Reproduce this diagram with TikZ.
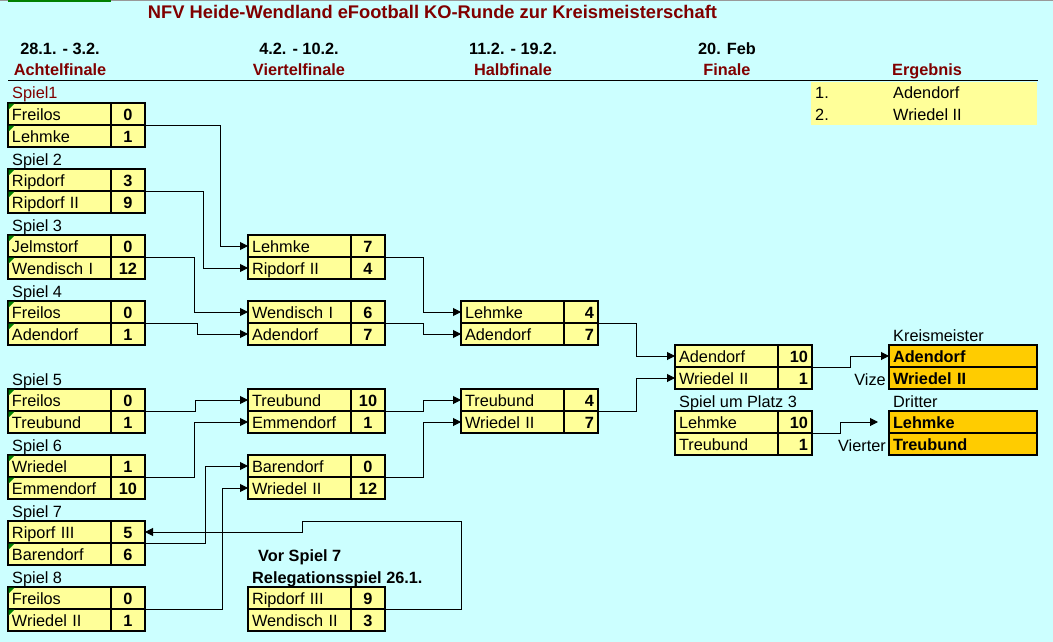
\documentclass[tikz,border=0pt]{standalone}
\usepackage{fontspec}
\setmainfont{Liberation Sans}
\usetikzlibrary{arrows.meta,calc}
\definecolor{bgc}{RGB}{204,255,255}
\definecolor{yl}{RGB}{255,255,153}
\definecolor{orng}{RGB}{255,204,0}
\definecolor{dred}{RGB}{128,0,0}
\definecolor{xlgreen}{RGB}{0,128,0}
\newcommand\tf{\fontsize{16.3}{19}\selectfont}
\newcommand\mtch[8]{%
 \node[team] (#1a) at (#2,#3) {#4};
 \node[score=#8] (#1as) at (#1a.north east) {#5};
 \node[team] (#1b) at (#1a.south west) {#6};
 \node[score=#8] (#1bs) at (#1b.north east) {#7};
}
\tikzset{
 team/.style={draw, line width=1.1pt, fill=yl, minimum height=22pt, text width=95pt,
   inner xsep=4pt, inner ysep=0pt, outer sep=0pt, align=left, font=\tf,
   text height=13pt, text depth=0pt, anchor=north west},
 score/.style={team, text width=26pt, align=#1, font=\tf\bfseries},
 score/.default=center,
 res/.style={team, fill=orng, text width=140pt, font=\tf\bfseries},
 lbl/.style={anchor=base west, inner sep=0pt, font=\tf},
 lble/.style={anchor=base east, inner sep=0pt, font=\tf},
 hdr/.style={anchor=base, inner sep=0pt, font=\tf\bfseries},
 arr/.style={draw, line width=1pt, -{Triangle[length=8pt,width=8pt]}},
 ln/.style={draw, line width=1pt},
}
\begin{document}
\begin{tikzpicture}[x=1pt,y=-1pt]
\useasboundingbox (0,0) rectangle (1053,642);
\fill[bgc] (0,0) rectangle (1053,642);
\fill[black!40] (0,0) rectangle (1053,1.5);
\fill[xlgreen] (8,0) rectangle (111,2);

% title and headers
\node[hdr, font=\fontsize{18.3}{22}\selectfont\bfseries, text=dred] (title) at (432.5,18.5) {NFV Heide-Wendland eFootball KO-Runde zur Kreismeisterschaft};
\node[hdr] (d1) at (60,55) {28.1. - 3.2.};
\node[hdr, text=dred] (r1h) at (60,76) {Achtelfinale};
\node[hdr] (d2) at (299,55) {4.2. - 10.2.};
\node[hdr, text=dred] (r2h) at (299,76) {Viertelfinale};
\node[hdr] (d3) at (513,55) {11.2. - 19.2.};
\node[hdr, text=dred] (r3h) at (513,76) {Halbfinale};
\node[hdr] (d4) at (727,55) {20. Feb};
\node[hdr, text=dred] (r4h) at (727,76) {Finale};
\node[hdr, text=dred] (r5h) at (927,76) {Ergebnis};
\draw[line width=1pt] (8,81) -- (1038,81);

% Ergebnis box
\fill[yl] (811,82) rectangle (1037,125);
\node[lbl] (e1) at (815,99) {1.};
\node[lbl] (e1t) at (893,99) {Adendorf};
\node[lbl] (e2) at (815,121) {2.};
\node[lbl] (e2t) at (893,121) {Wriedel II};

% Achtelfinale
\node[lbl, text=dred] (l1) at (12,99) {Spiel1};
\mtch{m1}{8}{103}{Freilos}{0}{Lehmke}{1}{center}
\node[lbl] (l2) at (12,165) {Spiel 2};
\mtch{m2}{8}{169}{Ripdorf}{3}{Ripdorf II}{9}{center}
\node[lbl] (l3) at (12,231) {Spiel 3};
\mtch{m3}{8}{235}{Jelmstorf}{0}{Wendisch I}{12}{center}
\node[lbl] (l4) at (12,297) {Spiel 4};
\mtch{m4}{8}{301}{Freilos}{0}{Adendorf}{1}{center}
\node[lbl] (l5) at (12,385) {Spiel 5};
\mtch{m5}{8}{389}{Freilos}{0}{Treubund}{1}{center}
\node[lbl] (l6) at (12,451) {Spiel 6};
\mtch{m6}{8}{455}{Wriedel}{1}{Emmendorf}{10}{center}
\node[lbl] (l7) at (12,517) {Spiel 7};
\mtch{m7}{8}{521}{Riporf III}{5}{Barendorf}{6}{center}
\node[lbl] (l8) at (12,583) {Spiel 8};
\mtch{m8}{8}{587}{Freilos}{0}{Wriedel II}{1}{center}

% green markers
\foreach \yy in {103,125,169,191,235,257,301,323,389,411,455,477,543,587,609}
  \fill[xlgreen] (8.6,\yy+0.6) -- (14.6,\yy+0.6) -- (8.6,\yy+6.6) -- cycle;

% Viertelfinale
\mtch{q1}{248}{235}{Lehmke}{7}{Ripdorf II}{4}{center}
\mtch{q2}{248}{301}{Wendisch I}{6}{Adendorf}{7}{center}
\mtch{q3}{248}{389}{Treubund}{10}{Emmendorf}{1}{center}
\mtch{q4}{248}{455}{Barendorf}{0}{Wriedel II}{12}{center}
\node[lbl, font=\tf\bfseries] (vs) at (258,561) {Vor Spiel 7};
\node[lbl, font=\tf\bfseries] (rs) at (252,583) {Relegationsspiel 26.1.};
\mtch{rl}{248}{587}{Ripdorf III}{9}{Wendisch II}{3}{center}

% Halbfinale
\mtch{s1}{461}{301}{Lehmke}{4}{Adendorf}{7}{right}
\mtch{s2}{461}{389}{Treubund}{4}{Wriedel II}{7}{right}

% Finale
\mtch{f1}{675}{345}{Adendorf}{10}{Wriedel II}{1}{right}
\node[lbl] (sp3) at (679,407) {Spiel um Platz 3};
\mtch{p3}{675}{411}{Lehmke}{10}{Treubund}{1}{right}

% Ergebnisse
\node[lbl] (km) at (893,341) {Kreismeister};
\node[res] (ra) at (889,345) {Adendorf};
\node[res] (rb) at (ra.south west) {Wriedel II};
\node[lble] (vz) at (886,385) {Vize};
\node[lbl] (dr) at (893,407) {Dritter};
\node[res] (rc) at (889,411) {Lehmke};
\node[res] (rd) at (rc.south west) {Treubund};
\node[lble] (vt) at (886,451) {Vierter};

% helper x positions
\coordinate (v1) at (220,0);
\coordinate (v2) at (203,0);
\coordinate (v3) at (194,0);
\coordinate (v4) at (197,0);
\coordinate (v5) at (195,0);
\coordinate (v6) at (194,0);
\coordinate (v7) at (205,0);
\coordinate (v8) at (222,0);
\coordinate (w1) at (423,0);
\coordinate (w2) at (636,0);
\coordinate (w3) at (850,0);
\coordinate (w4) at (840,0);
\coordinate (h1) at (461,521);
\coordinate (h2) at (302,521);

% connectors round 1 -> QF
\draw[arr] (m1bs.north east) -- (m1bs.north east -| v1) |- (q1a.west);
\draw[arr] (m2bs.north east) -- (m2bs.north east -| v2) |- (q1b.west);
\draw[arr] (m3bs.north east) -- (m3bs.north east -| v3) |- (q2a.west);
\draw[arr] (m4bs.north east) -- (m4bs.north east -| v4) |- (q2b.west);
\draw[arr] (m5bs.north east) -- (m5bs.north east -| v5) |- (q3a.west);
\draw[arr] (m6bs.north east) -- (m6bs.north east -| v6) |- (q3b.west);
\draw[arr] (m7bs.north east) -- (m7bs.north east -| v7) |- (q4a.west);
\draw[arr] (m8bs.north east) -- (m8bs.north east -| v8) |- (q4b.west);
% relegation -> Spiel 7
\draw[arr] (rlbs.north east) -| (h1) -- (h2) |- (m7as.east);
% QF -> SF
\draw[arr] (q1bs.north east) -- (q1bs.north east -| w1) |- (s1a.west);
\draw[arr] (q2bs.north east) -- (q2bs.north east -| w1) |- (s1b.west);
\draw[arr] (q3bs.north east) -- (q3bs.north east -| w1) |- (s2a.west);
\draw[arr] (q4bs.north east) -- (q4bs.north east -| w1) |- (s2b.west);
% SF -> F
\draw[arr] (s1bs.north east) -- (s1bs.north east -| w2) |- (f1a.west);
\draw[arr] (s2bs.north east) -- (s2bs.north east -| w2) |- (f1b.west);
% F -> result
\draw[arr] (f1bs.north east) -- (f1bs.north east -| w3) |- (ra.west);
\draw[arr, shorten >=11pt] (p3bs.north east) -- (p3bs.north east -| w4) |- (rc.west);
\end{tikzpicture}
\end{document}
